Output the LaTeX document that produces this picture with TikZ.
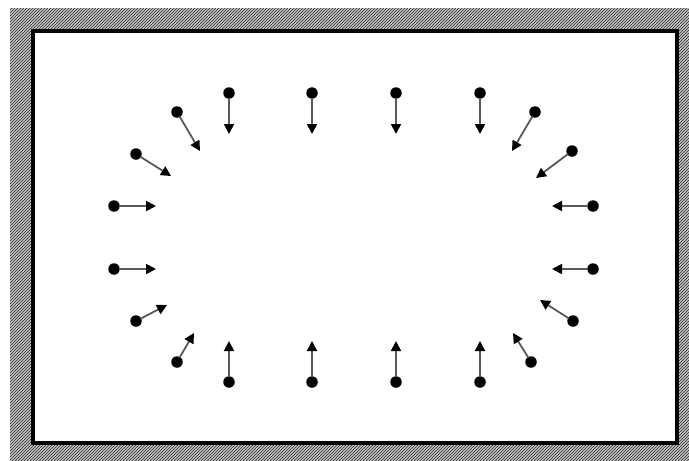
\documentclass[tikz,border=0pt]{standalone}
\usetikzlibrary{patterns,arrows.meta}
\begin{document}
\begin{tikzpicture}[x=1pt,y=-1pt,
  dot/.style={circle,fill=black,inner sep=0pt,minimum size=11.5pt},
  vec/.style={draw=black!65,line width=1.8pt,shorten <=-1pt,
    -{Triangle[length=10pt,width=10pt,color=black]}},
  hatch/.style={pattern=north east lines,pattern color=black!85},
  innerframe/.style={draw=black,line width=3.5pt}]
\useasboundingbox (0,0) rectangle (689,461);
\fill[gray!45,even odd rule] (10,8) rectangle (689,461) (33,31) rectangle (677,443);
\path[hatch,even odd rule] (10,8) rectangle (689,461) (33,31) rectangle (677,443);
\draw[innerframe] (33,31) rectangle (677,443);
\foreach \n/\dx/\dy/\tx/\ty in {
  1/229/93/229/134, 2/312/93/312/134, 3/396/93/396/134, 4/480/93/480/134,
  5/177/112/200/151, 6/136/154/171/176, 7/114/206/156/206, 8/114/269/156/269,
  9/136/321/167/305, 10/177/362/194/333,
  11/229/382/229/341, 12/312/382/312/341, 13/396/382/396/341, 14/480/382/480/341,
  15/535/112/512/151, 16/572/151/536/178, 17/593/206/552/206, 18/593/269/552/269,
  19/573/321/540/300, 20/531/362/513/333}{
  \node[dot] (d\n) at (\dx,\dy) {};
  \coordinate (t\n) at (\tx,\ty);
  \draw[vec] (d\n) -- (t\n);
}
\end{tikzpicture}
\end{document}
